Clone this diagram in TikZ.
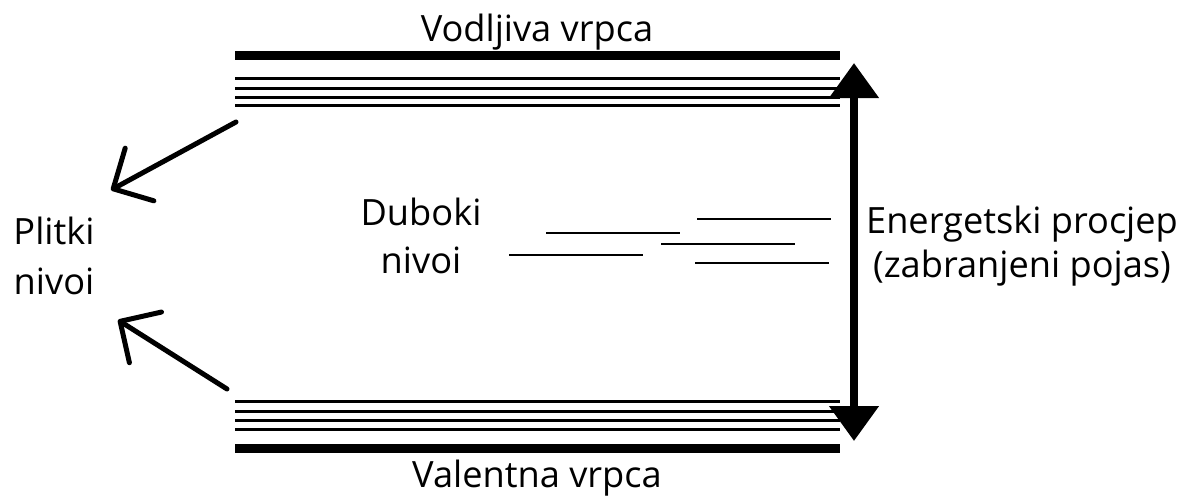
\documentclass[tikz,border=0pt]{standalone}
\usepackage{fontspec}
\setmainfont{Open Sans}
\usetikzlibrary{arrows.meta,positioning}

\tikzset{
  band/.style = {line width=0.18cm},
  level/.style = {line width=0.06cm},
  deep/.style = {line width=0.055cm},
  gap arrow/.style = {line width=0.16cm, {Triangle[length=0.7cm,width=0.96cm]}-{Triangle[length=0.7cm,width=0.96cm]}},
  shallow arrow/.style = {line width=0.1cm, line cap=round, -{Straight Barb[length=0.6cm,width=1.2cm,round]}},
  label/.style = {anchor=base, inner sep=0pt, font=\fontsize{20.6}{27}\selectfont}
}

\begin{document}
\begin{tikzpicture}[x=0.02cm, y=-0.02cm]
  \useasboundingbox (0,0) rectangle (1181,495);

  % vrpce
  \coordinate (vodL) at (235,55);
  \coordinate (vodR) at (840,55);
  \coordinate (valL) at (235,448);
  \coordinate (valR) at (840,448);
  \draw[band] (vodL) -- (vodR);
  \draw[band] (valL) -- (valR);
  \foreach \y in {78,88,97,105}
    \draw[level] (235,\y) -- (840,\y);
  \foreach \y in {401,411,420,429}
    \draw[level] (235,\y) -- (840,\y);

  \node[label] (vodljiva) at (537,41) {Vodljiva vrpca};
  \node[label] (valentna) at (537,487) {Valentna vrpca};

  % duboki nivoi
  \foreach \xa/\xb/\y in {697/831/219, 546/680/233, 661/795/244, 509/643/255, 695/829/263}
    \draw[deep] (\xa,\y) -- (\xb,\y);
  \node[label, align=center] (duboki) at (421,273) {Duboki\\nivoi};

  % procjep
  \coordinate (gapTop) at (854,63);
  \coordinate (gapBot) at (854,441);
  \draw[gap arrow] (gapTop) -- (gapBot);
  \node[label, align=center, font=\fontsize{20.6}{25}\selectfont] (procjep) at (1022,277) {Energetski procjep\\(zabranjeni pojas)};

  % plitki nivoi
  \node[label, align=center, font=\fontsize{20.6}{28}\selectfont] (plitki) at (54,294) {Plitki\\nivoi};
  \coordinate (upFrom) at (236,122);
  \coordinate (upTo) at (111,190);
  \coordinate (downFrom) at (227,389);
  \coordinate (downTo) at (118,320);
  \draw[shallow arrow] (upFrom) -- (upTo);
  \draw[shallow arrow] (downFrom) -- (downTo);
\end{tikzpicture}
\end{document}
